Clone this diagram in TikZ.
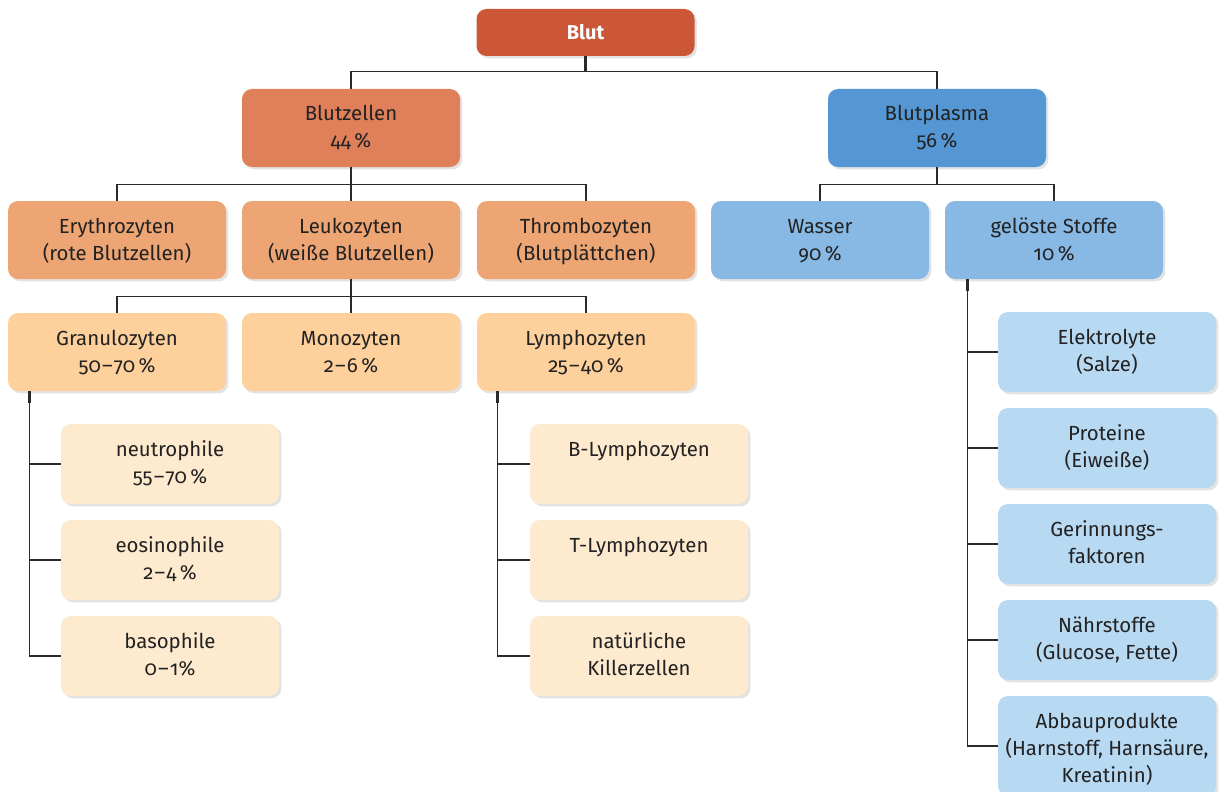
\documentclass[tikz,border=0pt]{standalone}
\usepackage{fontspec}
\setmainfont{Fira Sans}[Numbers=OldStyle]
\usetikzlibrary{shadows}
\definecolor{cBlut}{HTML}{CB5737}
\definecolor{cZellen}{HTML}{E0805A}
\definecolor{cPlasma}{HTML}{5597D4}
\definecolor{cOrA}{HTML}{EDA574}
\definecolor{cBlA}{HTML}{88B9E5}
\definecolor{cOrB}{HTML}{FDD09C}
\definecolor{cOrC}{HTML}{FEEACF}
\definecolor{cBlB}{HTML}{B8D9F2}
\definecolor{cTxt}{HTML}{222222}
\definecolor{cLine}{HTML}{2A2A2A}
\newcommand\tb[2][39pt]{\parbox[c][#1][t]{105pt}{\centering\fontsize{10.2pt}{13.5pt}\selectfont\rule{0pt}{16pt}#2}}
\newcommand\rng{\kern0.6pt–\kern0.6pt}
\tikzset{
  box/.style={rounded corners=5pt, minimum width=109pt, inner sep=0pt, text=cTxt,
    drop shadow={opacity=0.22, shadow xshift=1.2pt, shadow yshift=-1.2pt}},
  conn/.style={draw=cLine, line width=0.55pt},
  stubline/.style={draw=cLine, line width=1.3pt},
}
\begin{document}
\begin{tikzpicture}[x=0.5pt,y=-0.5pt]
\useasboundingbox (0,0) rectangle (1226,792);
% boxes
\node[box, fill=cBlut, minimum height=23.5pt, text=white, font=\bfseries\fontsize{10pt}{12pt}\selectfont] (blut) at (585.5,32.5) {Blut};
\node[box, fill=cZellen] (zellen) at (351,128) {\tb{Blutzellen\\44\,\%}};
\node[box, fill=cPlasma] (plasma) at (937,128) {\tb{Blutplasma\\56\,\%}};
\node[box, fill=cOrA] (ery) at (117,240) {\tb{Erythrozyten\\(rote Blutzellen)}};
\node[box, fill=cOrA] (leuko) at (351,240) {\tb{Leukozyten\\(weiße Blutzellen)}};
\node[box, fill=cOrA] (thrombo) at (586,240) {\tb{Thrombozyten\\(Blutplättchen)}};
\node[box, fill=cBlA] (wasser) at (820,240) {\tb{Wasser\\90\,\%}};
\node[box, fill=cBlA] (geloest) at (1054,240) {\tb{gelöste Stoffe\\10\,\%}};
\node[box, fill=cOrB] (granulo) at (117,352) {\tb{Granulozyten\\50\rng70\,\%}};
\node[box, fill=cOrB] (mono) at (351,352) {\tb{Monozyten\\2\rng6\,\%}};
\node[box, fill=cOrB] (lympho) at (586,352) {\tb{Lymphozyten\\25\rng40\,\%}};
\node[box, fill=cOrC] (neutro) at (170,464) {\tb[40pt]{neutrophile\\55\rng70\,\%}};
\node[box, fill=cOrC] (eosino) at (170,560) {\tb[40pt]{eosinophile\\2\rng4\,\%}};
\node[box, fill=cOrC] (baso) at (170,656) {\tb[40pt]{basophile\\0\rng1\%}};
\node[box, fill=cOrC] (blym) at (639,464) {\tb[40pt]{B-Lymphozyten}};
\node[box, fill=cOrC] (tlym) at (639,560) {\tb[40pt]{T-Lymphozyten}};
\node[box, fill=cOrC] (nk) at (639,656) {\tb[40pt]{natürliche\\Killerzellen}};
\node[box, fill=cBlB] (elektro) at (1107,352) {\tb[40pt]{Elektrolyte\\(Salze)}};
\node[box, fill=cBlB] (prot) at (1107,448) {\tb[40pt]{Proteine\\(Eiweiße)}};
\node[box, fill=cBlB] (gerinn) at (1107,544) {\tb[40pt]{Gerinnungs-\\faktoren}};
\node[box, fill=cBlB] (naehr) at (1107,640) {\tb[40pt]{Nährstoffe\\(Glucose, Fette)}};
\node[box, fill=cBlB] (abbau) at (1107,746) {\tb[50pt]{Abbauprodukte\\(Harnstoff, Harnsäure,\\Kreatinin)}};
% connectors: tree levels
\draw[conn] (blut.south) -- ++(0,15) -| (zellen.north);
\draw[conn] (blut.south) -- ++(0,15) -| (plasma.north);
\draw[stubline] (blut.south) -- ++(0,15);
\foreach \c in {ery,leuko,thrombo} {
  \draw[conn] (zellen.south) -- ++(0,17) -| (\c.north);
  \draw[stubline] (\c.north) -- ++(0,-6);
}
\draw[stubline] (zellen.south) -- ++(0,17);
\foreach \c in {wasser,geloest} {
  \draw[conn] (plasma.south) -- ++(0,17) -| (\c.north);
  \draw[stubline] (\c.north) -- ++(0,-6);
}
\draw[stubline] (plasma.south) -- ++(0,17);
\foreach \c in {granulo,mono,lympho} {
  \draw[conn] (leuko.south) -- ++(0,17) -| (\c.north);
  \draw[stubline] (\c.north) -- ++(0,-6);
}
\draw[stubline] (leuko.south) -- ++(0,17);
\draw[stubline] (zellen.north) -- ++(0,-6);
\draw[stubline] (plasma.north) -- ++(0,-6);
% side branches
\foreach \c in {neutro,eosino,baso} {
  \draw[conn] ([xshift=11pt]granulo.south west) |- (\c.west);
  \draw[stubline] (\c.west) -- ++(-6,0);
}
\draw[stubline] ([xshift=11pt]granulo.south west) -- ++(0,12);
\foreach \c in {blym,tlym,nk} {
  \draw[conn] ([xshift=10.5pt]lympho.south west) |- (\c.west);
  \draw[stubline] (\c.west) -- ++(-6,0);
}
\draw[stubline] ([xshift=10.5pt]lympho.south west) -- ++(0,12);
\foreach \c in {elektro,prot,gerinn,naehr,abbau} {
  \draw[conn] ([xshift=11.5pt]geloest.south west) |- (\c.west);
  \draw[stubline] (\c.west) -- ++(-6,0);
}
\draw[stubline] ([xshift=11.5pt]geloest.south west) -- ++(0,12);
\end{tikzpicture}
\end{document}
